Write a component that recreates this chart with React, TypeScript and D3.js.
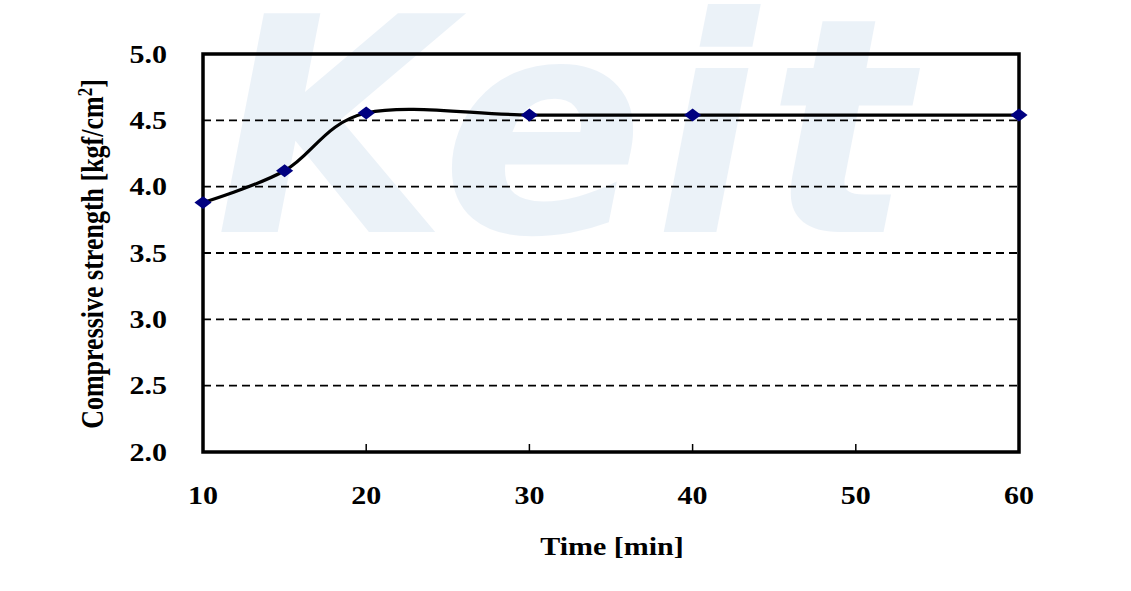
import React from "react";
import * as d3 from "d3";

const times = [10, 15, 20, 30, 40, 60];
const strength = [3.88, 4.12, 4.555, 4.54, 4.54, 4.54];
const xTicks = [10, 20, 30, 40, 50, 60];
const yTicks = [2.0, 2.5, 3.0, 3.5, 4.0, 4.5, 5.0];
const gridValues = [2.5, 3.0, 3.5, 4.0, 4.5];

export default function App() {
  const W = 1131, H = 591;
  const left = 203, right = 1019, top = 54, bottom = 452;
  const x = d3.scaleLinear().domain([10, 60]).range([left, right]);
  const y = d3.scaleLinear().domain([2, 5]).range([bottom, top]);
  const pts: [number, number][] = times.map((t, i) => [x(t), y(strength[i])]);
  const line = d3.line().curve(d3.curveCardinal.tension(0))(pts) || "";
  const diamond = d3.symbol().type(d3.symbolDiamond2).size(130)() || "";
  const font = "'Liberation Serif', 'Times New Roman', serif";
  const sx = 1.2;

  return (
    <svg width={W} height={H} style={{ position: "absolute", left: 0, top: 0 }}>
      <rect width={W} height={H} fill="#fff" />
      <text x={215} y={232} fontFamily="'DejaVu Sans', sans-serif" fontWeight="bold" fontStyle="italic"
        fontSize={300} fill="#dfeaf5" opacity={0.6} letterSpacing={10}>Keit</text>
      {gridValues.map((v) => (
        <line key={v} x1={left} x2={right} y1={y(v)} y2={y(v)} stroke="#000" strokeWidth={1.8} strokeDasharray="8,5" />
      ))}
      {xTicks.slice(1, -1).map((t) => (
        <line key={t} x1={x(t)} x2={x(t)} y1={bottom} y2={bottom - 8} stroke="#000" strokeWidth={1.5} />
      ))}
      <rect x={left} y={top} width={right - left} height={bottom - top} fill="none" stroke="#000" strokeWidth={3.5} />
      <path d={line} fill="none" stroke="#000" strokeWidth={3.2} />
      {pts.map((p, i) => (
        <path key={i} d={diamond} transform={`translate(${p[0]},${p[1]}) scale(1.2,0.9)`} fill="#000080" />
      ))}
      {yTicks.map((v) => (
        <text key={v} transform={`translate(167,${y(v)}) scale(${sx},1)`} dy="0.35em" textAnchor="end"
          fontFamily={font} fontWeight="bold" fontSize={25}>
          {v.toFixed(1)}
        </text>
      ))}
      {xTicks.map((t) => (
        <text key={t} transform={`translate(${x(t)},495) scale(${sx},1)`} dy="0.35em" textAnchor="middle"
          fontFamily={font} fontWeight="bold" fontSize={25}>
          {t}
        </text>
      ))}
      <text transform={`translate(612,546) scale(${sx},1)`} dy="0.35em" textAnchor="middle" fontFamily={font} fontWeight="bold" fontSize={25}>
        Time [min]
      </text>
      <text transform={`translate(92,254) scale(${sx},1) rotate(-90)`} dy="0.35em" textAnchor="middle" fontFamily={font} fontWeight="bold" fontSize={26}>
        Compressive strength [kgf/cm<tspan dy="-9" fontSize={17}>2</tspan><tspan dy="9">]</tspan>
      </text>
    </svg>
  );
}
